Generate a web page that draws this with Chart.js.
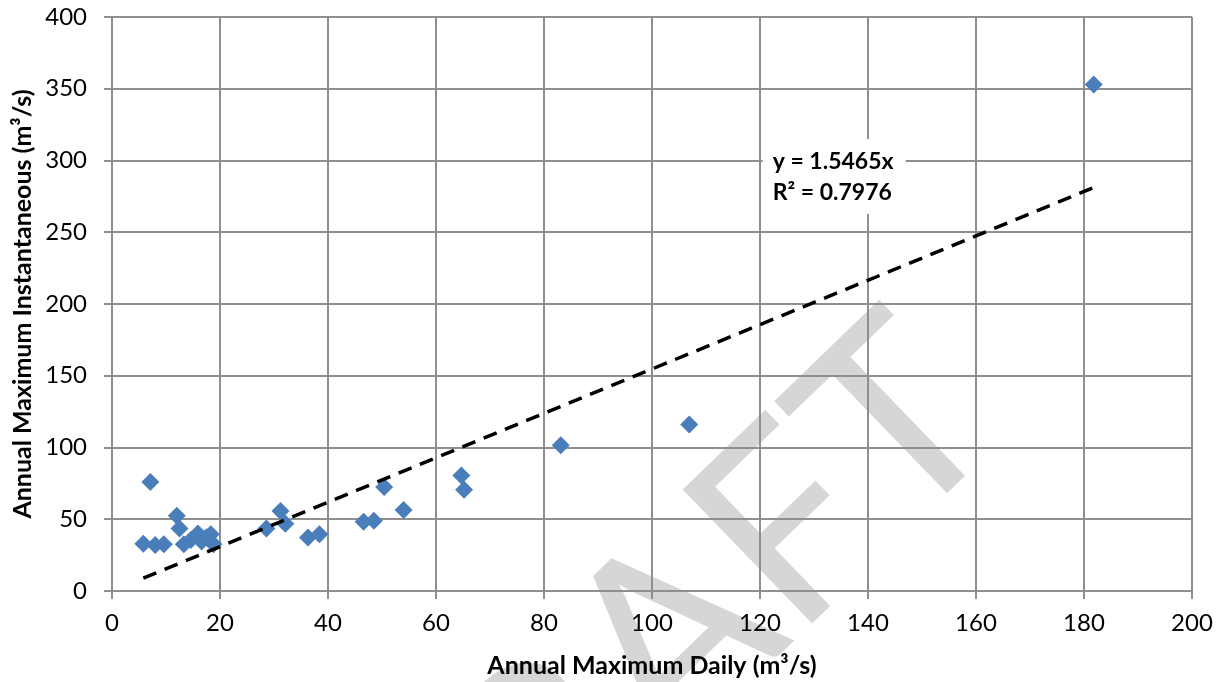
<!DOCTYPE html>
<html>
<head>
<meta charset="utf-8">
<script src="https://cdn.jsdelivr.net/npm/chart.js@4"></script>
<style>
  html, body { margin: 0; padding: 0; background: #fff; }
  #wrap { width: 1217px; height: 682px; position: relative; }
</style>
</head>
<body>
<div id="wrap"><canvas id="flowChart" width="1217" height="682"></canvas></div>
<script>
// Annual maximum daily vs instantaneous flow (m3/s)
const dailyFlow = [5.8, 7.1, 8.0, 9.6, 12.0, 12.5, 13.3, 14.6, 15.9, 16.6, 17.5, 18.3, 18.8,
  28.6, 31.2, 32.1, 36.3, 38.4, 46.6, 48.5, 50.4, 54.0, 64.7, 65.2, 83.1, 106.9, 181.8];
const instFlow = [33, 76, 32, 32.5, 52.5, 43.5, 32.5, 35.5, 40, 34.5, 37.5, 39.5, 32.5,
  43.5, 55.8, 46.8, 37.3, 39.5, 48.3, 49, 72.5, 56.5, 80.5, 70.5, 101.5, 116, 353];

// linear trendline through origin, y = 1.5465x
const trendX = [5.8, 181.8];
const trendY = [9.0, 281.2];
const trendLabel = ['y = 1.5465x', 'R\u00b2 = 0.7976'];

const xTicks = [0, 20, 40, 60, 80, 100, 120, 140, 160, 180, 200];
const yTicks = [0, 50, 100, 150, 200, 250, 300, 350, 400];

const FONT = 'Lato, "Open Sans", sans-serif';
const GRID = '#8f8f8f';

const pointData = dailyFlow.map((x, i) => ({ x: x, y: instFlow[i] }));
const trendData = trendX.map((x, i) => ({ x: x, y: trendY[i] }));

// big grey DRAFT behind everything
const watermark = {
    id: 'watermark',
    beforeDraw(chart) {
        const ctx = chart.ctx;
        ctx.save();
        ctx.font = '260px ' + FONT;
        ctx.fillStyle = '#d6d6d6';
        ctx.textBaseline = 'alphabetic';
        ctx.translate(795, 640);
        ctx.rotate(-44 * Math.PI / 180);
        ctx.fillText('DRAFT', -ctx.measureText('DRA').width, 0);
        ctx.restore();
    }
};

// equation box, drawn over the grid
const trendBox = {
    id: 'trendBox',
    afterDraw(chart) {
        const ctx = chart.ctx;
        const xs = chart.scales.x, ys = chart.scales.y;
        const left = xs.getPixelForValue(120.5);
        const top = ys.getPixelForValue(315);
        ctx.save();
        ctx.fillStyle = '#fff';
        ctx.fillRect(left, top, 143, 75);
        ctx.fillStyle = '#000';
        ctx.font = 'bold 23px ' + FONT;
        ctx.textBaseline = 'middle';
        ctx.textAlign = 'left';
        ctx.fillText(trendLabel[0], left + 10, top + 23);
        ctx.fillText(trendLabel[1], left + 10, top + 54);
        ctx.restore();
    }
};

new Chart(document.getElementById('flowChart'), {
    type: 'scatter',
    data: {
        datasets: [{
            label: 'Flow',
            data: pointData,
            pointStyle: 'rectRot',
            pointRadius: 9,
            pointBackgroundColor: '#4a7ebb',
            pointBorderColor: '#4a7ebb',
            pointBorderWidth: 0,
            order: 2
        }, {
            type: 'line',
            label: 'Trend',
            data: trendData,
            borderColor: '#000',
            borderWidth: 3.5,
            borderDash: [14, 9],
            pointRadius: 0,
            fill: false,
            order: 1
        }]
    },
    options: {
        responsive: false,
        animation: false,
        layout: { padding: { top: 17, right: 25, left: 0, bottom: 0 } },
        plugins: {
            legend: { display: false },
            tooltip: { enabled: false }
        },
        scales: {
            x: {
                type: 'linear',
                min: 0,
                max: 200,
                afterBuildTicks: (s) => { s.ticks = xTicks.map(v => ({ value: v })); },
                afterFit: (s) => { s.height = 91; s.paddingLeft = 0; s.paddingRight = 0; },
                grid: { color: GRID, lineWidth: 2, tickLength: 8 },
                border: { color: GRID, width: 2 },
                ticks: { color: '#000', padding: 10, font: { family: FONT, size: 24 } },
                title: {
                    display: true,
                    text: 'Annual Maximum Daily (m\u00b3/s)',
                    color: '#000',
                    font: { family: FONT, size: 25, weight: 'bold' },
                    padding: { top: 0, bottom: 1 }
                }
            },
            y: {
                type: 'linear',
                min: 0,
                max: 400,
                afterBuildTicks: (s) => { s.ticks = yTicks.map(v => ({ value: v })); },
                afterFit: (s) => { s.width = 112; s.paddingTop = 0; s.paddingBottom = 0; },
                grid: { color: GRID, lineWidth: 2, tickLength: 8 },
                border: { color: GRID, width: 2 },
                ticks: { color: '#000', padding: 17, font: { family: FONT, size: 24 } },
                title: {
                    display: true,
                    text: 'Annual Maximum Instantaneous (m\u00b3/s)',
                    color: '#000',
                    font: { family: FONT, size: 25, weight: 'bold' },
                    padding: { top: 8, bottom: 0 }
                }
            }
        }
    },
    plugins: [watermark, trendBox]
});
</script>
</body>
</html>
